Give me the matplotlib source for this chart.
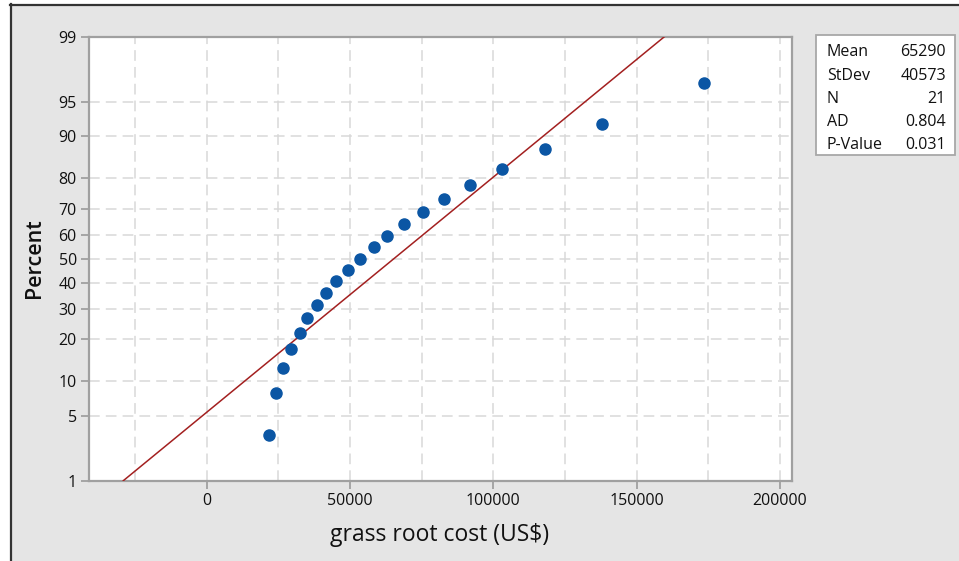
import numpy as np
import matplotlib
matplotlib.use("Agg")
import matplotlib.pyplot as plt
from matplotlib.patches import Rectangle
from statistics import NormalDist

# ---- data ----
costs = [21840, 24180, 26620, 29410, 32440, 34990, 38480, 41620, 45000, 49400,
         53480, 58360, 63000, 68930, 75560, 82680, 91750, 103120, 118020, 137800, 173590]
mean_val = 65290
sd_val = 40573
stat_names = ["Mean", "StDev", "N", "AD", "P-Value"]
stat_values = ["65290", "40573", "21", "0.804", "0.031"]
y_ticks = [1, 5, 10, 20, 30, 40, 50, 60, 70, 80, 90, 95, 99]
y_grid = [5, 10, 20, 30, 40, 50, 60, 70, 80, 90, 95]
x_ticks = [0, 50000, 100000, 150000, 200000]
x_grid = [-25000, 0, 25000, 50000, 75000, 100000, 125000, 150000, 175000, 200000]

nd = NormalDist()
_ppf = np.vectorize(lambda p: nd.inv_cdf(min(max(p, 1e-9), 100 - 1e-9) / 100.0), otypes=[float])
_cdf = np.vectorize(lambda z: nd.cdf(z) * 100.0, otypes=[float])

def fwd(p):
    return _ppf(np.asarray(p, dtype=float))

def inv(z):
    return _cdf(np.asarray(z, dtype=float))

n = len(costs)
xs = np.sort(np.array(costs, dtype=float))
pct = [(i - 0.3) / (n + 0.4) * 100 for i in range(1, n + 1)]

W, H = 959, 561
fig = plt.figure(figsize=(W / 100, H / 100), dpi=100, facecolor="white")
# gray panel with dark top/left border
fig.patches.append(Rectangle((11 / W, 0), 1, 1 - 5 / H, transform=fig.transFigure,
                             facecolor="#e5e5e5", edgecolor="none", zorder=-5))
fig.add_artist(plt.Line2D([10 / W, 1], [1 - 4.5 / H, 1 - 4.5 / H], transform=fig.transFigure,
                          color="#333333", lw=1.6, zorder=-4))
fig.add_artist(plt.Line2D([10.5 / W, 10.5 / W], [0, 1 - 4 / H], transform=fig.transFigure,
                          color="#333333", lw=1.6, zorder=-4))

ax = fig.add_axes([89.3 / W, 1 - 480.7 / H, (792.3 - 89.3) / W, (480.7 - 36.7) / H])
ax.set_zorder(1)
ax.set_facecolor("white")
ax.set_yscale("function", functions=(fwd, inv))
ax.set_xlim(-40960, 204300)
ax.set_ylim(1, 99)

for g in x_grid:
    ax.axvline(g, color="#d8d8d8", lw=1.1, ls=(0, (7, 4)), zorder=1)
for g in y_grid:
    ax.axhline(g, color="#d8d8d8", lw=1.1, ls=(0, (7, 4)), zorder=1)

# fitted line
p_line = np.array([1.0, 99.0])
x_line = mean_val + sd_val * fwd(p_line)
ax.plot(x_line, p_line, color="#a32020", lw=1.1, zorder=3)

ax.plot(xs, pct, "o", color="#0b56a4", ms=8, mec="#0b56a4", zorder=4)

ax.set_xticks(x_ticks)
ax.set_xticklabels([str(t) for t in x_ticks])
ax.set_yticks(y_ticks)
ax.set_yticklabels([str(t) for t in y_ticks])
ax.minorticks_off()
ax.tick_params(axis="both", colors="#9a9a9a", length=6, width=1.2, labelsize=11.5,
               labelcolor="#111111", pad=3)
for s in ax.spines.values():
    s.set_color("#a0a0a0")
    s.set_linewidth(1.6)

for t in ax.get_xticklabels() + ax.get_yticklabels():
    t.set_fontfamily("Open Sans")

fig.text(440 / W, 1 - 535 / H, "grass root cost (US$)", ha="center", va="center",
         fontsize=16.5, family="Open Sans", color="#111111")
fig.text(35 / W, 1 - 258 / H, "Percent", ha="center", va="center", rotation=90,
         fontsize=15.5, family="Open Sans", fontweight="semibold", color="#111111")

# stats box
fig.patches.append(Rectangle((816 / W, 1 - 155 / H), (955 - 816) / W, (155 - 35) / H,
                             transform=fig.transFigure, facecolor="white",
                             edgecolor="#a8a8a8", lw=1.3, zorder=2))
for i, (nm, vl) in enumerate(zip(stat_names, stat_values)):
    yy = 1 - (52.5 + 23.1 * i) / H
    fig.text(827 / W, yy, nm, ha="left", va="center", fontsize=11.5,
             family="Open Sans", color="#111111", zorder=3)
    fig.text(946 / W, yy, vl, ha="right", va="center", fontsize=11.5,
             family="Open Sans", color="#111111", zorder=3)

fig.savefig("out.png", dpi=100, facecolor=fig.get_facecolor())
